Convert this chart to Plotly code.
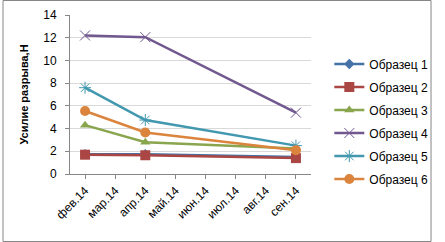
import plotly.graph_objects as go

months = ["фев.14", "мар.14", "апр.14", "май.14", "июн.14", "июл.14", "авг.14", "сен.14"]
series_names = ["Образец 1", "Образец 2", "Образец 3", "Образец 4", "Образец 5", "Образец 6"]
s1 = [1.75, None, 1.75, None, None, None, None, 1.5]
s2 = [1.7, None, 1.65, None, None, None, None, 1.4]
s3 = [4.3, None, 2.8, None, None, None, None, 2.25]
s4 = [12.2, None, 12.05, None, None, None, None, 5.4]
s5 = [7.6, None, 4.75, None, None, None, None, 2.5]
s6 = [5.55, None, 3.65, None, None, None, None, 2.1]
y_ticks = [0, 2, 4, 6, 8, 10, 12, 14]

values = [s1, s2, s3, s4, s5, s6]
colors = ["#4572A7", "#AA4643", "#89A54E", "#71588F", "#4198AF", "#DB843D"]
symbols = ["diamond", "square", "triangle-up", "x-thin", "asterisk", "circle"]
sizes = [8, 10, 9, 10, 10, 10]

fig = go.Figure()
for i, (name, vals) in enumerate(zip(series_names, values)):
    thin = symbols[i] in ("x-thin", "asterisk")
    fig.add_trace(go.Scatter(
        x=months, y=vals, name=name, mode="lines+markers", connectgaps=True,
        line=dict(color=colors[i], width=2.5),
        marker=dict(symbol=symbols[i], size=sizes[i], color=colors[i],
                    line=dict(color=colors[i], width=1 if thin else 0)),
        legendgroup=name,
    ))

fig.update_layout(
    width=445, height=242,
    margin=dict(l=70, r=125, t=15, b=68),
    paper_bgcolor="white", plot_bgcolor="white",
    font=dict(family="Liberation Sans, Arial, sans-serif", size=12, color="#000000"),
    showlegend=True,
    legend=dict(x=1.076, xanchor="left", y=0.33, yanchor="middle",
                font=dict(size=12), tracegroupgap=4, itemwidth=30,
                bgcolor="rgba(0,0,0,0)"),
    xaxis=dict(type="category", categoryorder="array", categoryarray=months,
               range=[-0.5, 7.5], tickangle=-45, showgrid=False, automargin=False,
               showline=True, linecolor="#868686", linewidth=1,
               ticks="outside", ticklen=4, tickcolor="#868686",
               tickfont=dict(size=12)),
    yaxis=dict(range=[0, 14], tickvals=y_ticks, showgrid=True, gridcolor="#D9D9D9",
               showline=True, linecolor="#868686", linewidth=1, zeroline=False,
               automargin=False,
               ticks="outside", ticklen=4, tickcolor="#868686",
               tickfont=dict(size=12), ticklabelstandoff=6,
               title=dict(text="<b>Усилие разрыва,Н</b>", font=dict(size=11), standoff=12)),
    shapes=[dict(type="rect", xref="paper", yref="paper",
                 x0=(0.5 - 70) / 250, x1=(444.5 - 70) / 250,
                 y0=(174 - 241.5) / 159, y1=(174 - 0.5) / 159,
                 line=dict(color="#868686", width=1), fillcolor="rgba(0,0,0,0)", layer="below")],
)

fig.write_html("out.html", config={"displayModeBar": False},
               post_script="document.body.style.margin='0';document.body.style.overflow='hidden';")
